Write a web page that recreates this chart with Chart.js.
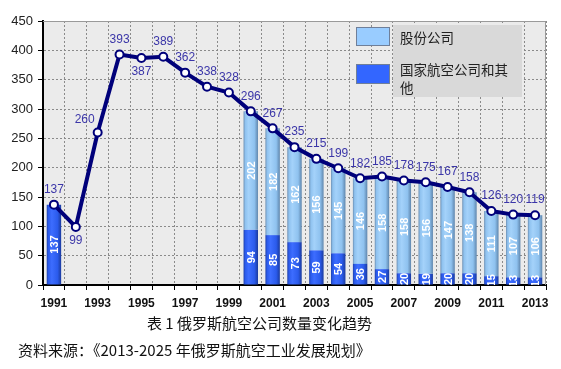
<!DOCTYPE html>
<html>
<head>
<meta charset="utf-8">
<script src="https://cdn.jsdelivr.net/npm/chart.js@4/dist/chart.umd.min.js"></script>
<style>
  html, body { margin: 0; padding: 0; background: #ffffff; }
  #wrap { position: relative; width: 561px; height: 369px; overflow: hidden; }
  canvas { position: absolute; left: 0; top: 0; }
  .cap { position: absolute; font-family: "Noto Sans CJK SC", sans-serif; color: #111; white-space: nowrap; line-height: 1; }
  #cap1 { left: 147px; top: 315px; font-size: 15px; }
  #cap2 { left: 18px; top: 342px; font-size: 15px; }
</style>
</head>
<body>
<div id="wrap">
  <canvas id="c" width="561" height="369"></canvas>
  <div class="cap" id="cap1">表 1 俄罗斯航空公司数量变化趋势</div>
  <div class="cap" id="cap2">资料来源：《2013-2025 年俄罗斯航空工业发展规划》</div>
</div>
<script>
// ---- data ----
const years = ['1991','1992','1993','1994','1995','1996','1997','1998','1999','2000','2001','2002','2003','2004','2005','2006','2007','2008','2009','2010','2011','2012','2013'];
const totalCompanies = [137, 99, 260, 393, 387, 389, 362, 338, 328, 296, 267, 235, 215, 199, 182, 185, 178, 175, 167, 158, 126, 120, 119];
const jointStock = [null, null, null, null, null, null, null, null, null, 202, 182, 162, 156, 145, 146, 158, 158, 156, 147, 138, 111, 107, 106];
const stateAndOther = [137, null, null, null, null, null, null, null, null, 94, 85, 73, 59, 54, 36, 27, 20, 19, 20, 20, 15, 13, 13];
const yTicks = [0, 50, 100, 150, 200, 250, 300, 350, 400, 450];
const seriesNames = ['股份公司', '国家航空公司和其他'];

const BAR_PCT = 0.66;

function barGradient(ctx, light, mid, dark, edge) {
  const chart = ctx.chart;
  const xs = chart.scales.x;
  if (!xs || xs.width === undefined || !chart.chartArea) return mid;
  const xc = xs.getPixelForValue(ctx.dataIndex);
  const w = (xs.width / years.length) * BAR_PCT;
  const g = chart.ctx.createLinearGradient(xc - w / 2, 0, xc + w / 2, 0);
  g.addColorStop(0, edge);
  g.addColorStop(0.12, mid);
  g.addColorStop(0.35, light);
  g.addColorStop(0.75, mid);
  g.addColorStop(1, dark);
  return g;
}

const plotBg = {
  id: 'plotBg',
  beforeDraw(chart) {
    const { ctx, chartArea: a } = chart;
    ctx.save();
    ctx.fillStyle = '#ebebeb';
    ctx.fillRect(a.left, a.top, a.right - a.left, a.bottom - a.top);
    ctx.restore();
  },
  afterDraw(chart) {
    const { ctx, chartArea: a } = chart;
    ctx.save();
    ctx.strokeStyle = '#9a9a9a';
    ctx.lineWidth = 1;
    ctx.beginPath();
    ctx.moveTo(a.left, a.top + 0.5);
    ctx.lineTo(a.right - 0.5, a.top + 0.5);
    ctx.lineTo(a.right - 0.5, a.bottom);
    ctx.stroke();
    ctx.restore();
  }
};

const valueLabels = {
  id: 'valueLabels',
  afterDatasetsDraw(chart) {
    const ctx = chart.ctx;
    const a = chart.chartArea;
    // bar segment labels (rotated, white)
    ctx.save();
    ctx.beginPath();
    ctx.rect(a.left, a.top, a.right - a.left, a.bottom - a.top);
    ctx.clip();
    ctx.fillStyle = '#ffffff';
    ctx.font = 'bold 11px Arial, "Liberation Sans", sans-serif';
    ctx.textAlign = 'center';
    ctx.textBaseline = 'middle';
    [0, 1].forEach(di => {
      const meta = chart.getDatasetMeta(di);
      const data = chart.data.datasets[di].data;
      meta.data.forEach((el, i) => {
        const v = data[i];
        if (v === null || v === undefined) return;
        const yc = (el.y + el.base) / 2;
        ctx.save();
        ctx.translate(el.x + 1, yc);
        ctx.rotate(-Math.PI / 2);
        ctx.fillText(String(v), 0, 0);
        ctx.restore();
      });
    });
    ctx.restore();

    // line point labels
    const lineMeta = chart.getDatasetMeta(2);
    const below = { 1: true, 4: true };
    const left = { 2: true };
    ctx.save();
    ctx.fillStyle = '#3b36a8';
    ctx.font = '12px Arial, "Liberation Sans", sans-serif';
    ctx.textAlign = 'center';
    ctx.textBaseline = 'middle';
    lineMeta.data.forEach((pt, i) => {
      const v = totalCompanies[i];
      let x = pt.x, y = pt.y - 15;
      if (below[i]) y = pt.y + 14;
      if (left[i]) { x = pt.x - 13; y = pt.y - 13; }
      ctx.fillText(String(v), x, y);
    });
    ctx.restore();
  }
};

const customLegend = {
  id: 'customLegend',
  afterDraw(chart) {
    const ctx = chart.ctx;
    ctx.save();
    ctx.fillStyle = '#d9d9d9';
    ctx.fillRect(393, 25, 129, 72);
    // swatches
    ctx.fillStyle = '#99ccff';
    ctx.fillRect(357, 28, 32, 17);
    ctx.strokeStyle = '#6f7f99';
    ctx.lineWidth = 1;
    ctx.strokeRect(356.5, 27.5, 33, 18);
    ctx.fillStyle = '#3366ff';
    ctx.fillRect(357, 65, 32, 18);
    ctx.strokeRect(356.5, 64.5, 33, 19);
    ctx.fillStyle = '#222222';
    ctx.font = '13.5px "Noto Sans CJK SC", sans-serif';
    ctx.textAlign = 'left';
    ctx.textBaseline = 'middle';
    ctx.fillText(seriesNames[0], 400, 38);
    ctx.fillText(seriesNames[1].slice(0, 8), 400, 70);
    ctx.fillText(seriesNames[1].slice(8), 400, 88);
    ctx.restore();
  }
};

new Chart(document.getElementById('c'), {
  data: {
    labels: years,
    datasets: [
      {
        type: 'bar',
        label: seriesNames[1],
        data: stateAndOther,
        backgroundColor: c => barGradient(c, '#3d6dff', '#2b5bec', '#1a3a9e', '#1e3fa8'),
        borderWidth: 0,
        stack: 's',
        barPercentage: BAR_PCT,
        categoryPercentage: 1.0,
        order: 2
      },
      {
        type: 'bar',
        label: seriesNames[0],
        data: jointStock,
        backgroundColor: c => barGradient(c, '#a4d2fa', '#8fc2ef', '#5f86ad', '#6c8fb3'),
        borderWidth: 0,
        stack: 's',
        barPercentage: BAR_PCT,
        categoryPercentage: 1.0,
        order: 2
      },
      {
        type: 'line',
        label: '合计',
        data: totalCompanies,
        borderColor: '#00007a',
        borderWidth: 4,
        pointRadius: 4,
        pointBackgroundColor: '#ffffff',
        pointBorderColor: '#00007a',
        pointBorderWidth: 2,
        tension: 0,
        order: 1
      }
    ]
  },
  options: {
    responsive: false,
    animation: false,
    layout: { padding: { left: 0, top: 21, right: 15, bottom: 50 } },
    plugins: {
      legend: { display: false },
      tooltip: { enabled: false },
      title: { display: false }
    },
    scales: {
      x: {
        stacked: true,
        offset: true,
        grid: {
          offset: true,
          color: '#8a8a8a',
          lineWidth: 1,
          drawTicks: true,
          tickLength: 5,
          tickColor: '#000000',
          tickBorderDash: []
        },
        border: { display: true, color: '#000000', width: 2, dash: [2, 2] },
        ticks: {
          autoSkip: false,
          maxRotation: 0,
          padding: 6,
          color: '#111111',
          font: { family: 'Arial, "Liberation Sans", sans-serif', size: 12, weight: 'bold' },
          callback: (val, idx) => (idx % 2 === 0 ? years[idx] : '')
        },
        afterFit: s => { s.height = 34; }
      },
      y: {
        stacked: true,
        min: 0,
        max: 450,
        afterBuildTicks: s => { s.ticks = yTicks.map(v => ({ value: v })); },
        grid: {
          color: '#8a8a8a',
          lineWidth: 1,
          drawTicks: true,
          tickLength: 5,
          tickColor: '#000000',
          tickBorderDash: []
        },
        border: { display: true, color: '#000000', width: 2, dash: [2, 2] },
        ticks: {
          padding: 5,
          color: '#222222',
          font: { family: 'Arial, "Liberation Sans", sans-serif', size: 13 }
        },
        afterFit: s => { s.width = 43; }
      }
    }
  },
  plugins: [plotBg, valueLabels, customLegend]
});
</script>
</body>
</html>
